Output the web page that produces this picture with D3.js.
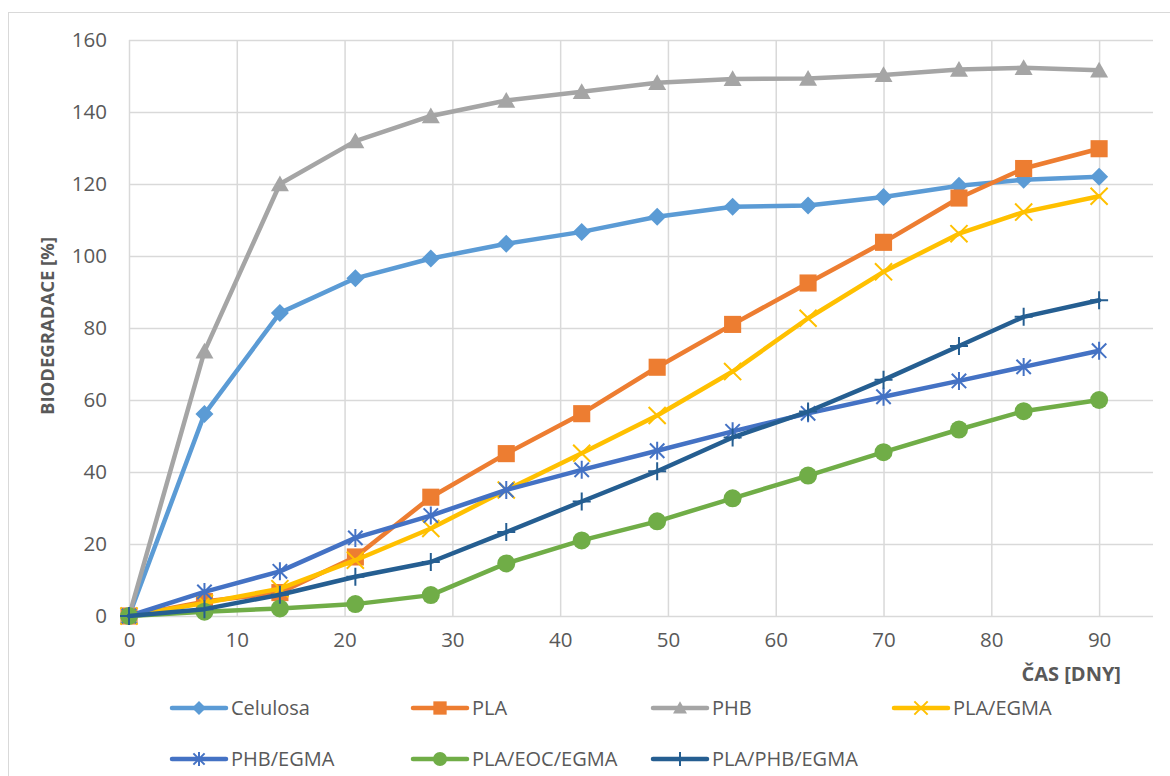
<!DOCTYPE html>
<html>
<head>
<meta charset="utf-8">
<script src="https://cdn.jsdelivr.net/npm/d3@7"></script>
<style>
  html, body { margin: 0; padding: 0; background: #ffffff; }
  svg { display: block; font-family: "Open Sans", "Noto Sans", sans-serif; }
</style>
</head>
<body>
<svg id="chart" width="1170" height="776"></svg>
<script>
// Sampling days (x values)
const days = [0, 7, 14, 21, 28, 35, 42, 49, 56, 63, 70, 77, 83, 90];

// Biodegradation [%] per material
const celulosa   = [0, 56.1, 84.2, 93.8, 99.3, 103.4, 106.7, 110.9, 113.7, 114.0, 116.4, 119.5, 121.2, 122.0];
const pla        = [0, 4.0, 6.5, 16.4, 33.0, 45.1, 56.2, 69.1, 81.0, 92.5, 103.8, 116.1, 124.3, 129.8];
const phb        = [0, 73.5, 120.0, 131.9, 138.9, 143.2, 145.6, 148.1, 149.2, 149.3, 150.3, 151.8, 152.3, 151.6];
const plaEgma    = [0, 3.6, 7.6, 15.5, 24.3, 35.0, 45.2, 55.7, 67.9, 82.7, 95.6, 106.2, 112.2, 116.6];
const phbEgma    = [0, 6.7, 12.4, 21.7, 27.9, 35.0, 40.6, 45.9, 51.3, 56.3, 60.9, 65.3, 69.2, 73.7];
const plaEocEgma = [0, 1.2, 2.1, 3.3, 5.8, 14.6, 21.0, 26.3, 32.7, 39.0, 45.5, 51.8, 56.9, 60.0];
const plaPhbEgma = [0, 1.9, 5.9, 10.9, 15.0, 23.3, 31.8, 40.2, 49.6, 56.8, 65.6, 75.0, 83.1, 87.7];

// Series names, colours and marker shapes
const seriesNames  = ["Celulosa", "PLA", "PHB", "PLA/EGMA", "PHB/EGMA", "PLA/EOC/EGMA", "PLA/PHB/EGMA"];
const seriesValues = [celulosa, pla, phb, plaEgma, phbEgma, plaEocEgma, plaPhbEgma];
const seriesColors = ["#5B9BD5", "#ED7D31", "#A5A5A5", "#FFC000", "#4472C4", "#70AD47", "#255E91"];
const seriesMarks  = ["diamond", "square", "triangle", "x", "star", "circle", "plus"];

// Axis ticks and titles
const xTicks = [0, 10, 20, 30, 40, 50, 60, 70, 80, 90];
const yTicks = [0, 20, 40, 60, 80, 100, 120, 140, 160];
const xTitle = "ČAS [DNY]";
const yTitle = "BIODEGRADACE [%]";

const svg = d3.select("#chart");
const textColor = "#595959";
const gridColor = "#D9D9D9";

const plot = { left: 129, right: 1153, top: 40, bottom: 616 };
const x = d3.scaleLinear().domain([0, 95]).range([plot.left, plot.right]);
const y = d3.scaleLinear().domain([0, 160]).range([plot.bottom, plot.top]);

// Chart frame
svg.append("rect")
  .attr("x", 8.5).attr("y", 12.5)
  .attr("width", 1200).attr("height", 800)
  .attr("fill", "none").attr("stroke", gridColor).attr("stroke-width", 1);

// Horizontal gridlines + y labels
const yAxis = d3.axisLeft(y).tickValues(yTicks)
  .tickSize(-(plot.right - plot.left)).tickPadding(22).tickFormat(d3.format("d"));
const gy = svg.append("g").attr("transform", `translate(${plot.left},0)`).call(yAxis);
gy.select(".domain").remove();
gy.selectAll(".tick line").attr("stroke", gridColor).attr("stroke-width", 1.5);
gy.selectAll(".tick text").attr("fill", textColor).style("font-size", "20.5px")
  .attr("font-family", "Open Sans, sans-serif");

// Vertical gridlines + x labels
const xAxis = d3.axisBottom(x).tickValues(xTicks)
  .tickSize(-(plot.bottom - plot.top)).tickPadding(16).tickFormat(d3.format("d"));
const gx = svg.append("g").attr("transform", `translate(0,${plot.bottom})`).call(xAxis);
gx.select(".domain").remove();
gx.selectAll(".tick line").attr("stroke", gridColor).attr("stroke-width", 1.5);
gx.selectAll(".tick text").attr("fill", textColor).style("font-size", "20.5px")
  .attr("font-family", "Open Sans, sans-serif");

// Axis titles
svg.append("text")
  .attr("x", 1121).attr("y", 681)
  .attr("text-anchor", "end")
  .attr("fill", textColor)
  .style("font-size", "20px").style("font-weight", "bold")
  .text(xTitle);

svg.append("text")
  .attr("transform", "translate(54,326) rotate(-90)")
  .attr("text-anchor", "middle")
  .attr("fill", textColor)
  .style("font-size", "18.5px").style("font-weight", "bold")
  .text(yTitle);

// Marker drawing
function drawMarker(g, shape, color, r) {
  const thin = 2;
  switch (shape) {
    case "diamond":
      g.append("path").attr("d", `M0,${-r}L${r},0L0,${r}L${-r},0Z`).attr("fill", color);
      break;
    case "square":
      g.append("rect").attr("x", -r * 0.95).attr("y", -r * 0.95)
        .attr("width", r * 1.9).attr("height", r * 1.9).attr("fill", color);
      break;
    case "triangle":
      g.append("path").attr("d", `M0,${-r * 0.95}L${r},${r * 0.8}L${-r},${r * 0.8}Z`).attr("fill", color);
      break;
    case "circle":
      g.append("circle").attr("r", r).attr("fill", color);
      break;
    case "x": {
      const a = r * 0.95;
      g.append("path").attr("d", `M${-a},${-a}L${a},${a}M${-a},${a}L${a},${-a}`)
        .attr("stroke", color).attr("stroke-width", thin).attr("fill", "none");
      break;
    }
    case "star": {
      const a = r * 0.8;
      g.append("path").attr("d", `M${-a},${-a}L${a},${a}M${-a},${a}L${a},${-a}M0,${-r}L0,${r}`)
        .attr("stroke", color).attr("stroke-width", thin).attr("fill", "none");
      break;
    }
    case "plus":
      g.append("path").attr("d", `M0,${-r}L0,${r}M${-r},0L${r},0`)
        .attr("stroke", color).attr("stroke-width", thin).attr("fill", "none");
      break;
  }
}

// Series lines and markers
const line = d3.line().x(d => x(d[0])).y(d => y(d[1]));
seriesNames.forEach((name, i) => {
  const pts = days.map((d, j) => [d, seriesValues[i][j]]);
  const g = svg.append("g").attr("class", "series");
  g.append("path")
    .attr("d", line(pts))
    .attr("fill", "none")
    .attr("stroke", seriesColors[i])
    .attr("stroke-width", 4.5)
    .attr("stroke-linejoin", "round")
    .attr("stroke-linecap", "round");
  pts.forEach(p => {
    const m = g.append("g").attr("transform", `translate(${x(p[0])},${y(p[1])})`);
    drawMarker(m, seriesMarks[i], seriesColors[i], 9);
  });
});

// Legend
const legendCols = [172, 413, 653, 894];
const legendRows = [708, 759];
seriesNames.forEach((name, i) => {
  const cx = legendCols[i % 4];
  const cy = legendRows[Math.floor(i / 4)];
  const g = svg.append("g").attr("transform", `translate(${cx},${cy})`);
  g.append("line").attr("x1", 0).attr("x2", 54).attr("y1", 0).attr("y2", 0)
    .attr("stroke", seriesColors[i]).attr("stroke-width", 4.5).attr("stroke-linecap", "round");
  const m = g.append("g").attr("transform", "translate(27,0)");
  drawMarker(m, seriesMarks[i], seriesColors[i], 7);
  g.append("text").attr("x", 59).attr("y", 0).attr("dy", "0.35em")
    .attr("fill", textColor).style("font-size", "20px")
    .text(name);
});
</script>
</body>
</html>
